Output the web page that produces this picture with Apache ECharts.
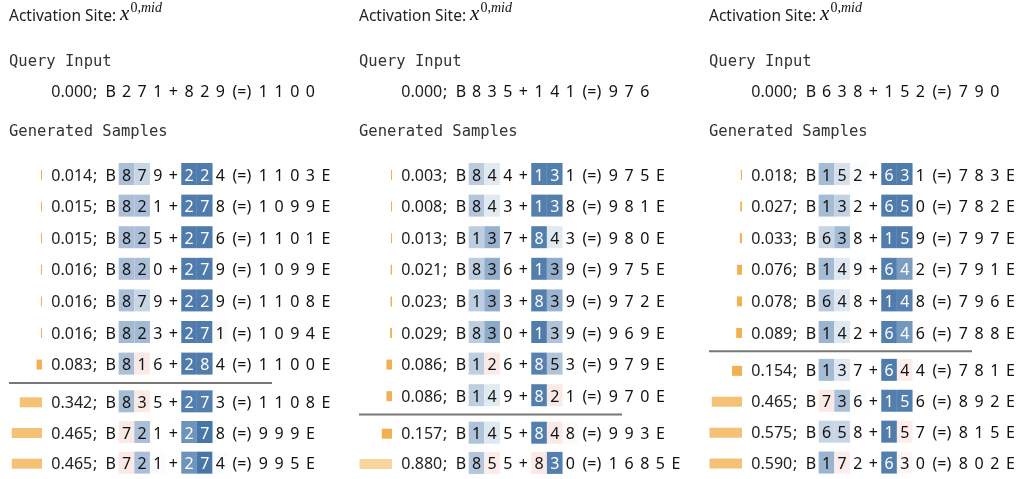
<!DOCTYPE html>
<html>
<head>
<meta charset="utf-8">
<title>Activation samples</title>
<style>
    html, body { margin: 0; padding: 0; background: #fff; }
    #main { width: 1020px; height: 479px; }
</style>
</head>
<body>
<div id="main"></div>
<script src="https://cdn.jsdelivr.net/npm/echarts@6/dist/echarts.min.js"></script>
<script type="text/javascript">
    // query input, one per panel
    var queryScores = [0.000, 0.000, 0.000];
    var queryTokens = [
        'B 2 7 1 + 8 2 9 (=) 1 1 0 0',
        'B 8 3 5 + 1 4 1 (=) 9 7 6',
        'B 6 3 8 + 1 5 2 (=) 7 9 0'
    ];

    // panel 1
    var scores1 = [0.014, 0.015, 0.015, 0.016, 0.016, 0.016, 0.083, 0.342, 0.465, 0.465];
    var samples1 = [
        'B 8 7 9 + 2 2 4 (=) 1 1 0 3 E',
        'B 8 2 1 + 2 7 8 (=) 1 0 9 9 E',
        'B 8 2 5 + 2 7 6 (=) 1 1 0 1 E',
        'B 8 2 0 + 2 7 9 (=) 1 0 9 9 E',
        'B 8 7 9 + 2 2 9 (=) 1 1 0 8 E',
        'B 8 2 3 + 2 7 1 (=) 1 0 9 4 E',
        'B 8 1 6 + 2 8 4 (=) 1 1 0 0 E',
        'B 8 3 5 + 2 7 3 (=) 1 1 0 8 E',
        'B 7 2 1 + 2 7 8 (=) 9 9 9 E',
        'B 7 2 1 + 2 7 4 (=) 9 9 5 E'
    ];
    // shading of operand digits: [a1, a2, a3, b1, b2, b3]
    var cells1 = [
        [0.42, 0.28, 0, 0.88, 0.88, 0],
        [0.42, 0.42, 0, 0.88, 0.88, 0],
        [0.42, 0.42, 0, 0.88, 0.88, 0],
        [0.42, 0.42, 0, 0.88, 0.88, 0],
        [0.42, 0.28, 0, 0.88, 0.88, 0],
        [0.46, 0.46, 0, 0.88, 0.88, -0.03],
        [0.42, -0.12, 0, 0.88, 0.88, 0],
        [0.45, -0.12, 0, 0.86, 0.86, 0],
        [-0.12, 0.42, 0, 0.72, 0.92, 0],
        [-0.12, 0.42, 0.02, 0.72, 0.92, 0.02]
    ];
    var split1 = 7;

    // panel 2
    var scores2 = [0.003, 0.008, 0.013, 0.021, 0.023, 0.029, 0.086, 0.086, 0.157, 0.880];
    var samples2 = [
        'B 8 4 4 + 1 3 1 (=) 9 7 5 E',
        'B 8 4 3 + 1 3 8 (=) 9 8 1 E',
        'B 1 3 7 + 8 4 3 (=) 9 8 0 E',
        'B 8 3 6 + 1 3 9 (=) 9 7 5 E',
        'B 1 3 3 + 8 3 9 (=) 9 7 2 E',
        'B 8 3 0 + 1 3 9 (=) 9 6 9 E',
        'B 1 2 6 + 8 5 3 (=) 9 7 9 E',
        'B 1 4 9 + 8 2 1 (=) 9 7 0 E',
        'B 1 4 5 + 8 4 8 (=) 9 9 3 E',
        'B 8 5 5 + 8 3 0 (=) 1 6 8 5 E'
    ];
    var cells2 = [
        [0.34, 0.15, 0, 0.86, 0.86, 0],
        [0.38, 0.15, 0, 0.86, 0.86, 0],
        [0.33, 0.52, 0, 0.86, 0.15, 0],
        [0.33, 0.55, 0, 0.86, 0.55, 0],
        [0.33, 0.55, 0, 0.86, 0.50, 0],
        [0.33, 0.58, -0.02, 0.88, 0.40, 0],
        [0.33, -0.12, 0, 0.84, 0.40, 0],
        [0.33, 0.15, 0, 0.86, -0.12, 0],
        [0.40, 0.16, 0, 0.86, -0.12, -0.03],
        [0.38, -0.10, 0, -0.12, 0.86, 0]
    ];
    var split2 = 8;

    // panel 3
    var scores3 = [0.018, 0.027, 0.033, 0.076, 0.078, 0.089, 0.154, 0.465, 0.575, 0.590];
    var samples3 = [
        'B 1 5 2 + 6 3 1 (=) 7 8 3 E',
        'B 1 3 2 + 6 5 0 (=) 7 8 2 E',
        'B 6 3 8 + 1 5 9 (=) 7 9 7 E',
        'B 1 4 9 + 6 4 2 (=) 7 9 1 E',
        'B 6 4 8 + 1 4 8 (=) 7 9 6 E',
        'B 1 4 2 + 6 4 6 (=) 7 8 8 E',
        'B 1 3 7 + 6 4 4 (=) 7 8 1 E',
        'B 7 3 6 + 1 5 6 (=) 8 9 2 E',
        'B 6 5 8 + 1 5 7 (=) 8 1 5 E',
        'B 1 7 2 + 6 3 0 (=) 8 0 2 E'
    ];
    var cells3 = [
        [0.45, 0.20, 0.02, 0.88, 0.88, 0],
        [0.45, 0.30, 0, 0.88, 0.88, 0],
        [0.28, 0.45, 0, 0.88, 0.88, 0],
        [0.45, 0.16, 0.02, 0.86, 0.66, 0],
        [0.35, 0.16, 0, 0.88, 0.84, 0],
        [0.50, 0.16, 0, 0.86, 0.70, 0],
        [0.45, 0.16, 0, 0.88, -0.10, 0],
        [-0.12, 0.42, 0.02, 0.86, 0.86, 0],
        [0.28, 0.28, 0, 0.88, -0.10, 0],
        [0.50, -0.10, 0, 0.86, -0.05, 0]
    ];
    var split3 = 6;

    var panels = [
        {x: 0, scores: scores1, samples: samples1, cells: cells1, split: split1},
        {x: 350, scores: scores2, samples: samples2, cells: cells2, split: split2},
        {x: 700, scores: scores3, samples: samples3, cells: cells3, split: split3}
    ];

    // layout
    var RH = 31.6;          // row height
    var UNIT = 15.65;       // token slot width
    var TOKEN_X0 = 103;     // left edge of the "B" slot inside a panel
    var SLOT_MIN = -3.5, SLOT_MAX = 13;
    var SCORE_SLOT = -3.3;
    var TOKEN_FONT = '16px "Noto Sans"';
    var CELL_SLOTS = {1: 0, 2: 1, 3: 2, 5: 3, 6: 4, 7: 5};

    function mix(end, t) {
        return 'rgb(' + end.map(function (c) {
            return Math.round(255 + (c - 255) * t);
        }).join(',') + ')';
    }

    function cellColor(v) {
        var t = Math.min(Math.abs(v), 1);
        return v >= 0 ? mix([55, 106, 161], t) : mix([222, 72, 47], t);
    }

    function barColor(v) {
        if (v > 0.8) return '#f8d49e';
        if (v > 0.3) return '#f5c275';
        return '#f2b052';
    }

    function makeRenderer(rows) {
        return function (params, api) {
            var row = rows[params.dataIndex];
            var y = api.value(1);
            var children = [];
            var ps = api.coord([SCORE_SLOT, y]);
            children.push({
                type: 'text',
                style: {
                    x: ps[0], y: ps[1] + 1, text: row.score.toFixed(3),
                    font: TOKEN_FONT, fill: '#222',
                    align: 'left', verticalAlign: 'middle'
                }
            });
            var pc = api.coord([-0.5, y]);
            children.push({
                type: 'text',
                style: {
                    x: pc[0], y: pc[1] + 1, text: ';',
                    font: TOKEN_FONT, fill: '#222',
                    align: 'center', verticalAlign: 'middle'
                }
            });
            var c = 0;
            row.tokens.forEach(function (tok, i) {
                var w = tok === '(=)' ? 1.75 : 1;
                var v = (row.cells && CELL_SLOTS[i] !== undefined) ? row.cells[CELL_SLOTS[i]] : 0;
                if (v) {
                    var p0 = api.coord([c, y]);
                    var p1 = api.coord([c + 1, y]);
                    children.push({
                        type: 'rect',
                        shape: {x: p0[0], y: p0[1] - 12, width: p1[0] - p0[0], height: 22},
                        style: {fill: cellColor(v)}
                    });
                }
                var pt = api.coord([c + w / 2, y]);
                children.push({
                    type: 'text',
                    style: {
                        x: pt[0], y: pt[1] + 1, text: tok,
                        font: TOKEN_FONT,
                        fill: v > 0.6 ? '#fff' : '#111',
                        align: 'center', verticalAlign: 'middle'
                    }
                });
                c += w;
            });
            return {type: 'group', children: children};
        };
    }

    var grids = [], xAxes = [], yAxes = [], series = [], graphics = [];

    function addTokenGrid(px, top, rows) {
        var gi = grids.length;
        grids.push({
            left: px + TOKEN_X0 + SLOT_MIN * UNIT, top: top,
            width: (SLOT_MAX - SLOT_MIN) * UNIT, height: rows.length * RH
        });
        xAxes.push({gridIndex: gi, type: 'value', min: SLOT_MIN, max: SLOT_MAX, show: false});
        yAxes.push({gridIndex: gi, type: 'category', inverse: true, show: false,
            data: rows.map(function (r, k) { return String(k); })});
        series.push({
            type: 'custom', xAxisIndex: gi, yAxisIndex: gi,
            renderItem: makeRenderer(rows),
            encode: {x: 0, y: 1},
            data: rows.map(function (r, k) { return [0, k]; }),
            silent: true
        });
    }

    function addBarGrid(px, top, rows) {
        var gi = grids.length;
        grids.push({left: px + 9.5, top: top, width: 32.5, height: rows.length * RH});
        xAxes.push({gridIndex: gi, type: 'value', min: 0, max: 0.5, inverse: true, show: false});
        yAxes.push({gridIndex: gi, type: 'category', inverse: true, show: false,
            data: rows.map(function (r, k) { return String(k); })});
        series.push({
            type: 'bar', xAxisIndex: gi, yAxisIndex: gi,
            barWidth: 10, barMinHeight: 1, silent: true,
            data: rows.map(function (r) {
                return {value: r.score, itemStyle: {color: barColor(r.score)}};
            })
        });
    }

    panels.forEach(function (p, k) {
        var px = p.x;
        // headers
        graphics.push({
            type: 'text', left: px + 9, top: 1,
            style: {
                text: '{a|Activation Site: }{x|x}{s|0,}{m|mid}',
                rich: {
                    a: {fontFamily: 'Noto Sans', fontSize: 15.5, fill: '#222', verticalAlign: 'bottom', lineHeight: 27},
                    x: {fontFamily: 'Liberation Serif', fontStyle: 'italic', fontSize: 21, fill: '#111', verticalAlign: 'bottom', lineHeight: 27},
                    s: {fontFamily: 'Liberation Serif', fontSize: 14, fill: '#111', verticalAlign: 'bottom', padding: [0, 0, 10, 1], lineHeight: 27},
                    m: {fontFamily: 'Liberation Serif', fontStyle: 'italic', fontSize: 14, fill: '#111', verticalAlign: 'bottom', padding: [0, 0, 10, 0], lineHeight: 27}
                }
            }
        });
        graphics.push({
            type: 'text', left: px + 9, top: 54,
            style: {text: 'Query Input', font: '15.5px "DejaVu Sans Mono"', fill: '#333'}
        });
        graphics.push({
            type: 'text', left: px + 9, top: 124,
            style: {text: 'Generated Samples', font: '15.5px "DejaVu Sans Mono"', fill: '#333'}
        });

        // query row
        addTokenGrid(px, 91 - RH / 2, [{score: queryScores[k], tokens: queryTokens[k].split(' '), cells: null}]);

        var rows = p.samples.map(function (s, i) {
            return {score: p.scores[i], tokens: s.split(' '), cells: p.cells[i]};
        });
        var upper = rows.slice(0, p.split);
        var lower = rows.slice(p.split);
        var topUpper = 175 - RH / 2;
        var topLower = 466 + RH / 2 - lower.length * RH;
        addTokenGrid(px, topUpper, upper);
        addBarGrid(px, topUpper, upper);
        addTokenGrid(px, topLower, lower);
        addBarGrid(px, topLower, lower);

        var lineY = topUpper + upper.length * RH + 2.5;
        graphics.push({
            type: 'line', silent: true,
            shape: {x1: px + 9, y1: lineY, x2: px + 272, y2: lineY},
            style: {stroke: '#777', lineWidth: 2}
        });
    });

    var chart = echarts.init(document.getElementById('main'));
    chart.setOption({
        backgroundColor: '#fff',
        animation: false,
        grid: grids,
        xAxis: xAxes,
        yAxis: yAxes,
        series: series,
        graphic: graphics
    });
</script>
</body>
</html>
